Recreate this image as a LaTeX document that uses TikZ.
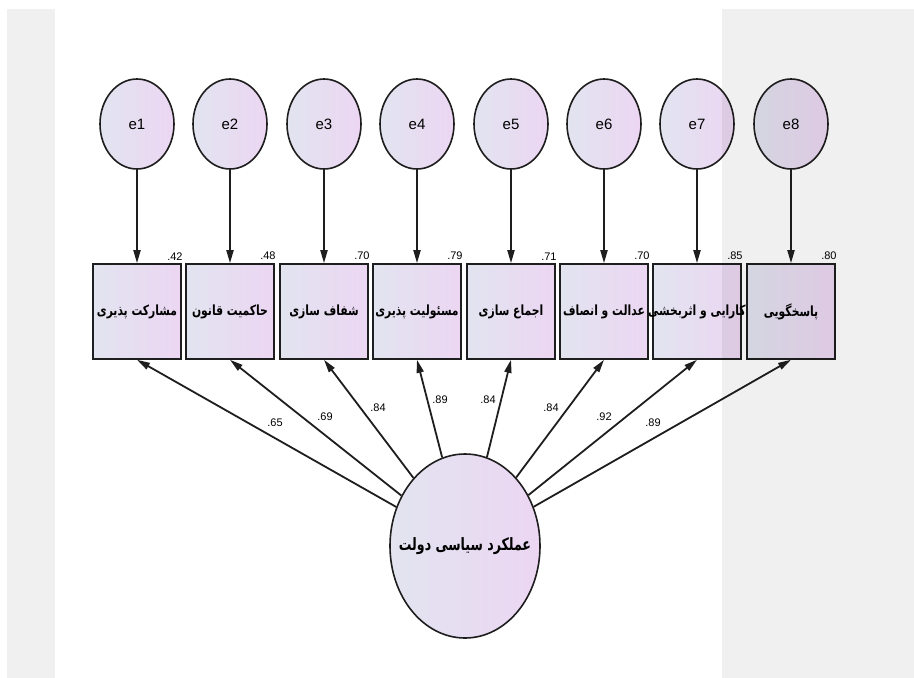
\documentclass[tikz,border=0pt]{standalone}
\usepackage{fontspec}
\setmainfont{Liberation Sans}
\TeXXeTstate=1
\newfontfamily\fa[Script=Arabic]{DejaVu Sans}
\usetikzlibrary{arrows.meta,shapes.geometric}
\definecolor{bgG}{RGB}{240,240,240}
\definecolor{fillL}{RGB}{226,228,240}
\definecolor{fillR}{RGB}{236,214,242}
\definecolor{edge}{RGB}{30,30,30}
\newcommand{\rtltext}[2][0.77]{\makebox[0pt]{\scalebox{#1}[1]{\beginR #2\endR}}}
\begin{document}
\begin{tikzpicture}[x=1pt,y=-1pt,
  errnode/.style={ellipse, draw=edge, line width=1.6pt, minimum width=74pt, minimum height=90pt, inner sep=0pt,
    left color=fillL, right color=fillR, font=\fontsize{15}{18}\selectfont},
  obsnode/.style={rectangle, draw=edge, line width=1.6pt, minimum width=88pt, minimum height=95pt, inner sep=0pt,
    left color=fillL, right color=fillR, font=\fa\bfseries\fontsize{14}{16}\selectfont},
  latnode/.style={ellipse, draw=edge, line width=1.6pt, minimum width=150pt, minimum height=184pt, inner sep=0pt,
    left color=fillL, right color=fillR, font=\fa\bfseries\fontsize{17}{20}\selectfont},
  varlab/.style={anchor=south east, inner sep=0pt, font=\fontsize{11}{13}\selectfont},
  pathlab/.style={inner sep=0pt, font=\fontsize{11}{13}\selectfont},
  arr/.style={-{Triangle[length=13pt,width=7pt]}, line width=1.8pt, draw=edge}
]
\useasboundingbox (0,0) rectangle (914,678);
\fill[white] (0,0) rectangle (914,678);
\fill[bgG] (7,9) rectangle (55,678);

% error terms
\node[errnode] (e1) at (137,124) {e1};
\node[errnode] (e2) at (230,124) {e2};
\node[errnode] (e3) at (324,124) {e3};
\node[errnode] (e4) at (417,124) {e4};
\node[errnode] (e5) at (511,124) {e5};
\node[errnode] (e6) at (604,124) {e6};
\node[errnode] (e7) at (697,124) {e7};
\node[errnode] (e8) at (791,124) {e8};

% observed variables
\node[obsnode] (b1) at (137,311.5) {\rtltext{مشارکت پذیری}};
\node[obsnode] (b2) at (230,311.5) {\rtltext{حاکمیت قانون}};
\node[obsnode] (b3) at (324,311.5) {\rtltext{شفاف سازی}};
\node[obsnode] (b4) at (417,311.5) {\rtltext{مسئولیت پذیری}};
\node[obsnode] (b5) at (511,311.5) {\rtltext{اجماع سازی}};
\node[obsnode] (b6) at (604,311.5) {\rtltext{عدالت و انصاف}};
\node[obsnode] (b7) at (697,311.5) {\rtltext{کارایی و اثربخشی}};
\node[obsnode] (b8) at (791,311.5) {\rtltext{پاسخگویی}};

% latent
\node[latnode] (lat) at (465,546) {\rtltext[0.74]{عملکرد سیاسی دولت}};

% error arrows
\foreach \i in {1,...,8} {
  \draw[arr] (e\i) -- (b\i);
}

% loading arrows
\foreach \i in {1,...,8} {
  \draw[arr] (lat) -- (b\i.south);
}

% variances
\node[varlab] (v1) at ([xshift=1pt,yshift=3pt]b1.north east) {.42};
\node[varlab] (v2) at ([xshift=1pt,yshift=3pt]b2.north east) {.48};
\node[varlab] (v3) at ([xshift=1pt,yshift=3pt]b3.north east) {.70};
\node[varlab] (v4) at ([xshift=1pt,yshift=3pt]b4.north east) {.79};
\node[varlab] (v5) at ([xshift=1pt,yshift=3pt]b5.north east) {.71};
\node[varlab] (v6) at ([xshift=1pt,yshift=3pt]b6.north east) {.70};
\node[varlab] (v7) at ([xshift=1pt,yshift=3pt]b7.north east) {.85};
\node[varlab] (v8) at ([xshift=1pt,yshift=3pt]b8.north east) {.80};

% loadings
\node[pathlab] (l1) at (275,423) {.65};
\node[pathlab] (l2) at (325,417) {.69};
\node[pathlab] (l3) at (378,408) {.84};
\node[pathlab] (l4) at (440,400) {.89};
\node[pathlab] (l5) at (488,400) {.84};
\node[pathlab] (l6) at (551,408) {.84};
\node[pathlab] (l7) at (604,417) {.92};
\node[pathlab] (l8) at (653,423) {.89};

% right grey panel (overlays the drawing)
\begin{scope}[blend mode=multiply]
\fill[bgG] (722,9) rectangle (914,678);
\end{scope}
\end{tikzpicture}
\end{document}
